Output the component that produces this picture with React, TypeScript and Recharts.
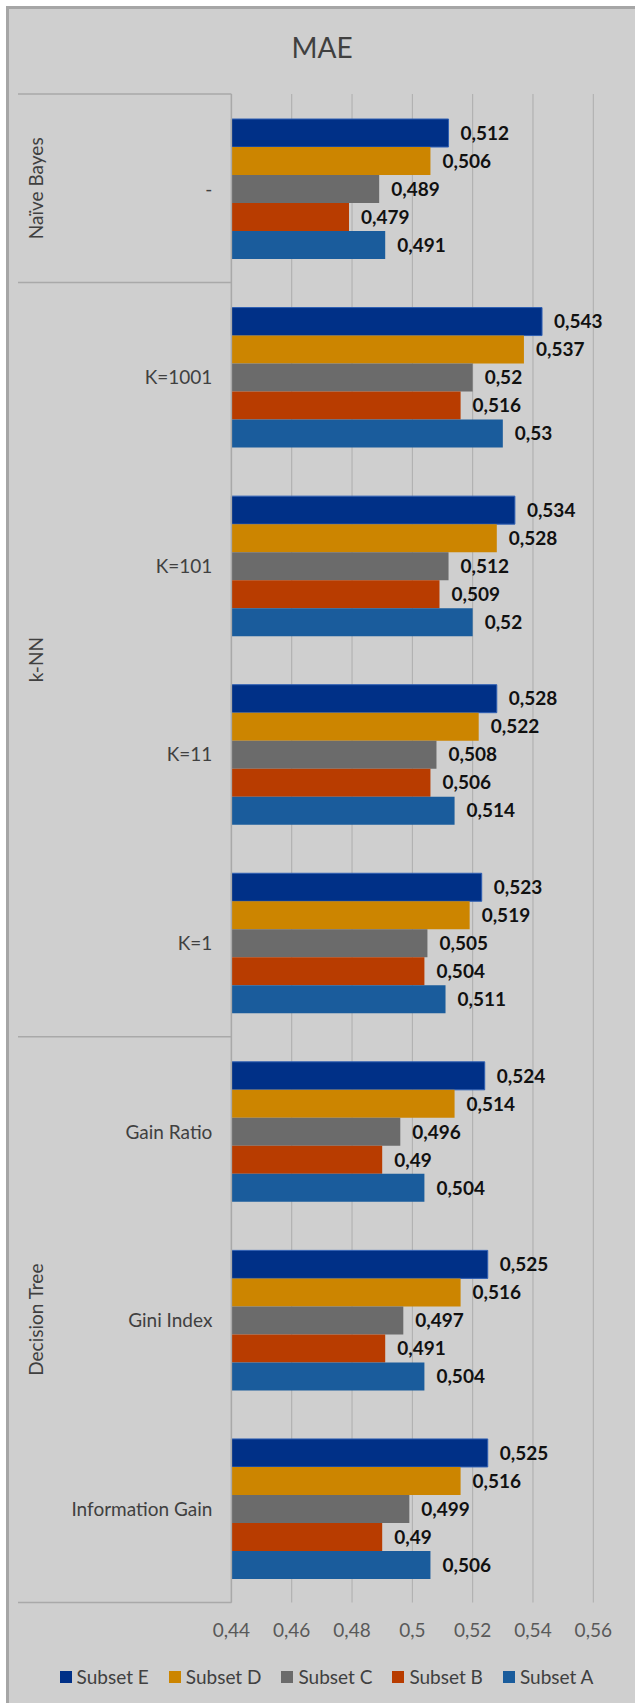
import { BarChart, Bar, XAxis, YAxis, CartesianGrid, Legend, LabelList } from 'recharts';

const FONT = 'Lato, "Open Sans", sans-serif';

// Categories top to bottom, the tree groups they belong to, and the MAE of each subset
const categories = ['-', 'K=1001', 'K=101', 'K=11', 'K=1', 'Gain Ratio', 'Gini Index', 'Information Gain'];
const groupNames = ['Naïve Bayes', 'k-NN', 'Decision Tree'];
const groupSizes = [1, 4, 3];

const subsetE = [0.512, 0.543, 0.534, 0.528, 0.523, 0.524, 0.525, 0.525];
const subsetD = [0.506, 0.537, 0.528, 0.522, 0.519, 0.514, 0.516, 0.516];
const subsetC = [0.489, 0.52, 0.512, 0.508, 0.505, 0.496, 0.497, 0.499];
const subsetB = [0.479, 0.516, 0.509, 0.506, 0.504, 0.49, 0.491, 0.49];
const subsetA = [0.491, 0.53, 0.52, 0.514, 0.511, 0.504, 0.504, 0.506];

const xTicks = [0.44, 0.46, 0.48, 0.5, 0.52, 0.54, 0.56];

const series = [
  { key: 'E', name: 'Subset E', color: '#003087', values: subsetE },
  { key: 'D', name: 'Subset D', color: '#cc8500', values: subsetD },
  { key: 'C', name: 'Subset C', color: '#6b6b6b', values: subsetC },
  { key: 'B', name: 'Subset B', color: '#b83c00', values: subsetB },
  { key: 'A', name: 'Subset A', color: '#1a5c9c', values: subsetA },
];

const chartData = categories.map((name, i) => {
  const row: any = { name };
  series.forEach((s) => (row[s.key] = s.values[i]));
  return row;
});

// group start index -> group index
const groupStarts: Record<number, number> = {};
groupSizes.reduce((start, size, g) => {
  groupStarts[start] = g;
  return start + size;
}, 0);

const fmt = (v: any) => String(v).replace('.', ',');

const TICK_MARGIN = 19;
const LINE = '#a9a9a9';

function CategoryTick(props: any) {
  const { x, y, payload, index } = props;
  const half = payload.offset ?? 0;
  const axisX = x + TICK_MARGIN;
  const g = groupStarts[index];
  return (
    <g>
      <text x={x} y={y} textAnchor="end" dominantBaseline="central" fontSize={19} fill="#404040" fontFamily={FONT}>
        {payload.value}
      </text>
      {g !== undefined && (
        <>
          <line x1={18} x2={axisX} y1={y - half} y2={y - half} stroke={LINE} strokeWidth={1.5} />
          <text
            x={35}
            y={y - half + groupSizes[g] * half}
            transform={`rotate(-90 35 ${y - half + groupSizes[g] * half})`}
            textAnchor="middle"
            dominantBaseline="central"
            fontSize={19}
            fill="#404040"
            fontFamily={FONT}
          >
            {groupNames[g]}
          </text>
        </>
      )}
      {index === categories.length - 1 && (
        <line x1={18} x2={axisX} y1={y + half} y2={y + half} stroke={LINE} strokeWidth={1.5} />
      )}
    </g>
  );
}

// keep legend entries in series order (E first)
const seriesOrder = series.map((s) => s.name);

function LegendContent(props: any) {
  const items = [...(props.payload || [])].sort(
    (a: any, b: any) => seriesOrder.indexOf(a.value) - seriesOrder.indexOf(b.value)
  );
  return (
    <div style={{ display: 'flex', justifyContent: 'center', alignItems: 'center', height: 20, gap: 20, fontFamily: FONT }}>
      {items.map((entry: any) => (
        <div key={entry.value} style={{ display: 'flex', alignItems: 'center' }}>
          <span style={{ display: 'inline-block', width: 12, height: 12, background: entry.color, marginRight: 5 }} />
          <span style={{ fontSize: 19, color: '#404040', lineHeight: '20px' }}>{entry.value}</span>
        </div>
      ))}
    </div>
  );
}

export default function App() {
  return (
    <div style={{ position: 'absolute', left: 0, top: 0, width: 635, height: 1703, background: '#fff', overflow: 'hidden' }}>
      <div
        style={{
          position: 'absolute',
          left: 6,
          top: 6,
          width: 700,
          height: 1800,
          background: '#cfcfcf',
          borderLeft: '3px solid #a6a6a6',
          borderTop: '3px solid #a6a6a6',
        }}
      />
      <div
        style={{
          position: 'absolute',
          left: 222,
          top: 28,
          width: 200,
          textAlign: 'center',
          fontFamily: FONT,
          fontSize: 28,
          lineHeight: '38px',
          color: '#404040',
        }}
      >
        MAE
      </div>
      <div style={{ position: 'absolute', left: 0, top: 0 }}>
        <BarChart
          width={635}
          height={1703}
          data={chartData}
          layout="vertical"
          margin={{ top: 94, right: 41.7, bottom: 50.5, left: 0 }}
          barCategoryGap={25}
          barGap={0}
        >
          <CartesianGrid horizontal={false} stroke="#adadad" />
          <XAxis
            type="number"
            domain={[0.44, 0.56]}
            ticks={xTicks}
            tickFormatter={fmt}
            axisLine={false}
            tickLine={false}
            tickSize={0}
            tickMargin={21}
            height={30}
            tick={{ fontSize: 19, fill: '#595959', fontFamily: FONT }}
          />
          <YAxis
            type="category"
            dataKey="name"
            width={231.4}
            axisLine={{ stroke: LINE, strokeWidth: 1.5 }}
            tickLine={false}
            tickSize={0}
            tickMargin={TICK_MARGIN}
            interval={0}
            tick={<CategoryTick />}
          />
          <Legend
            verticalAlign="bottom"
            content={<LegendContent />}
            wrapperStyle={{ left: 18, width: 617, bottom: 16.5 }}
          />
          {series.map((s) => (
            <Bar
              key={s.key}
              dataKey={s.key}
              name={s.name}
              fill={s.color}
              stroke={s.key === 'E' ? '#2f5fb3' : undefined}
              strokeWidth={s.key === 'E' ? 1 : 0}
              isAnimationActive={false}
            >
              <LabelList
                dataKey={s.key}
                position="right"
                offset={12}
                formatter={fmt}
                style={{ fontSize: 19, fontWeight: 700, fill: '#111', fontFamily: FONT }}
              />
            </Bar>
          ))}
        </BarChart>
      </div>
    </div>
  );
}
